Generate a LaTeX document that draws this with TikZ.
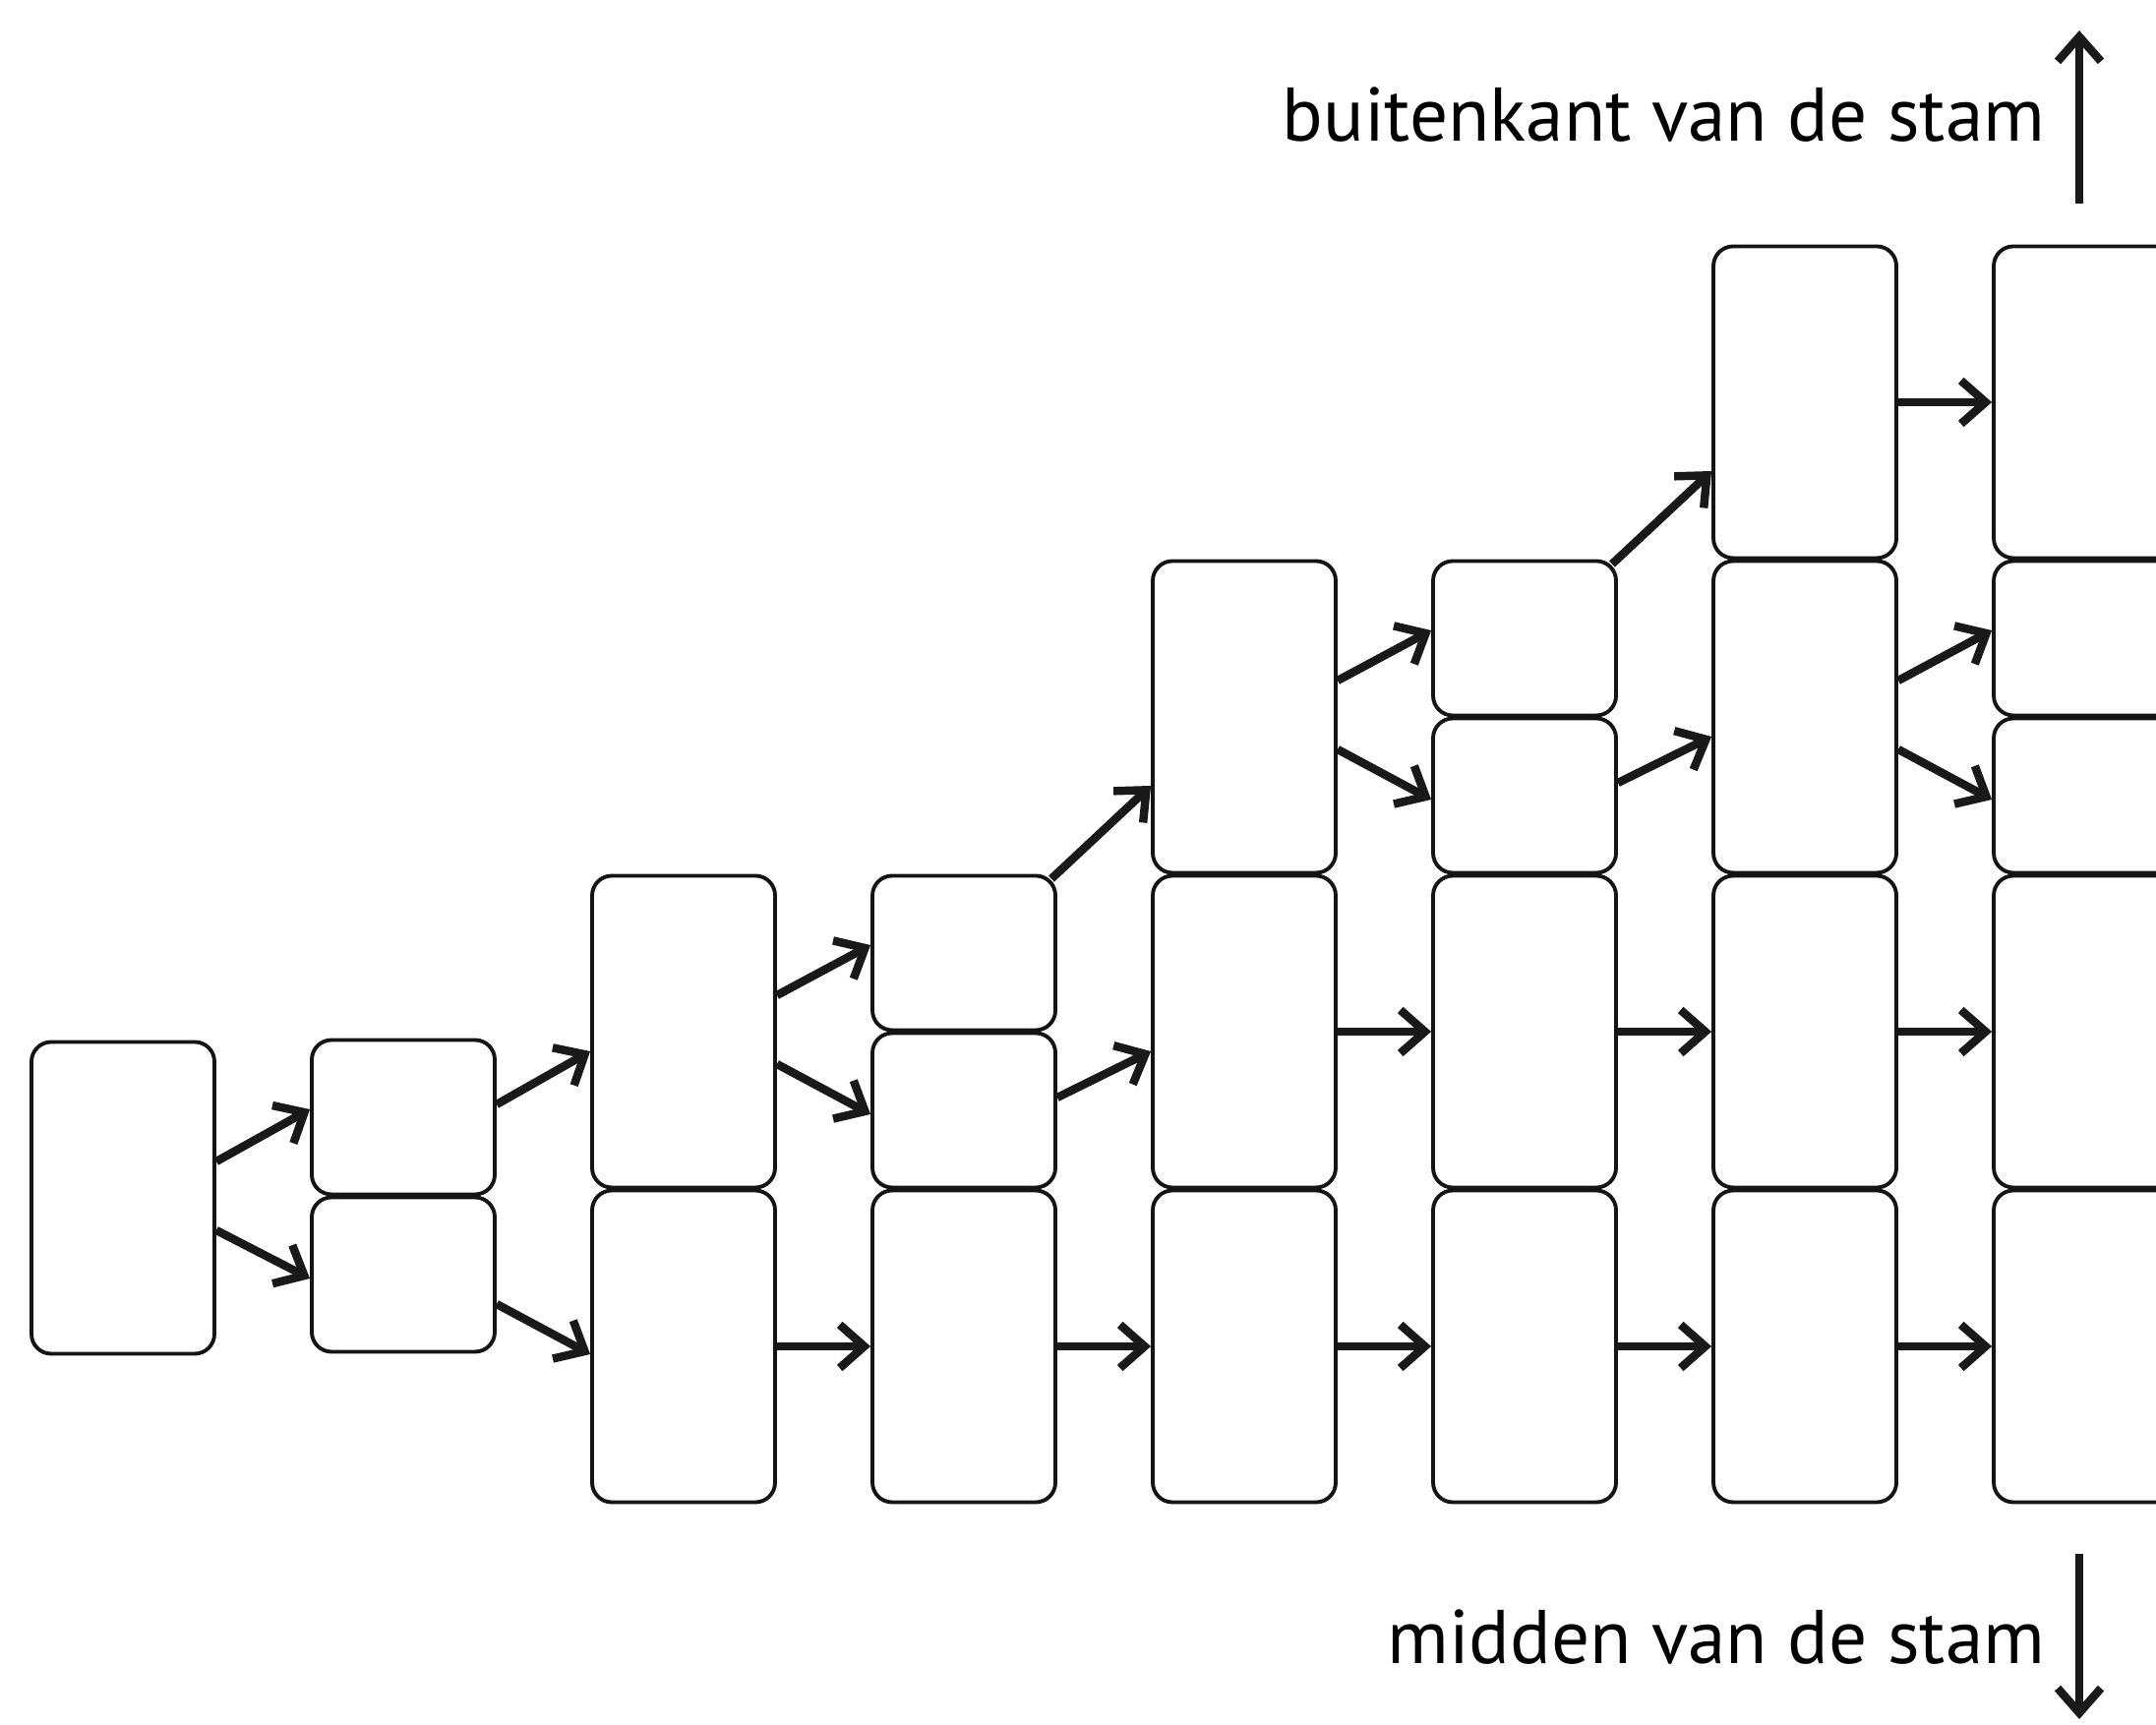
\documentclass[tikz,border=0pt]{standalone}
\usepackage{fontspec}
\setmainfont{PT Sans}
\usetikzlibrary{arrows.meta}

\begin{document}
\begin{tikzpicture}[
  cel/.style={draw=black!92,line width=1.1pt,rounded corners=2mm,minimum width=1.86cm,inner sep=0pt},
  groot/.style={cel,minimum height=3.17cm},
  klein/.style={cel,minimum height=1.57cm},
  pijl/.style={draw=black!90,line width=2.4pt,-{Straight Barb[length=2.5mm,width=4.4mm]}},
  lab/.style={font=\fontsize{22}{26}\selectfont,inner sep=0pt,anchor=base east}]
  \clip (0,0) rectangle (21.92,17.53);
  % cellen
  \node[groot] (g0) at (1.25,5.35) {};
  \node[klein] (o1) at (4.10,4.57) {};
  \node[klein] (b1) at (4.10,6.17) {};
  \foreach \i/\k in {2/0,2/1,3/0,4/0,4/1,4/2,5/0,5/1,6/0,6/1,6/2,6/3,7/0,7/1,7/3}
    \node[groot] (g\i\k) at (1.25+2.85*\i,3.84+3.2*\k) {};
  \foreach \i/\k in {3/1,5/2,7/2} {
    \node[klein] (o\i\k) at (1.25+2.85*\i,3.04+3.2*\k) {};
    \node[klein] (b\i\k) at (1.25+2.85*\i,4.64+3.2*\k) {};}
  % splitsen
  \foreach \s/\u/\l in {g0/b1/o1,g21/b31/o31,g42/b52/o52,g62/b72/o72} {
    \draw[pijl] ([yshift=3.7mm]\s.east) -- ([yshift=0.8mm]\u.west);
    \draw[pijl] ([yshift=-3.3mm]\s.east) -- ([yshift=-0.4mm]\l.west);}
  % rechtdoor
  \foreach \s/\t in {g20/g30,g30/g40,g40/g50,g50/g60,g60/g70,g41/g51,g51/g61,g61/g71,g63/g73}
    \draw[pijl] (\s) -- (\t);
  % samenvoegen
  \foreach \s/\t in {b1/g21,o31/g41,o52/g62}
    \draw[pijl] ([yshift=1.3mm]\s.east) -- ([yshift=-2mm]\t.west);
  \draw[pijl] ([yshift=-3mm]o1.east) -- ([yshift=-0.8mm]g20.west);
  \foreach \s/\t in {b31/g42,b52/g63}
    \draw[pijl] ([shift={(-0.06,-0.05)}]\s.north east) -- ([yshift=-7mm]\t.west);
  % richting
  \coordinate (op0) at (21.14,15.46); \coordinate (op1) at (21.14,17.22);
  \coordinate (neer0) at (21.14,1.73); \coordinate (neer1) at (21.14,0.05);
  \draw[pijl] (op0) -- (op1);
  \draw[pijl] (neer0) -- (neer1);
  \node[lab] (buiten) at (20.80,16.09) {buitenkant van de stam};
  \node[lab] (midden) at (20.80,0.61) {midden van de stam};
\end{tikzpicture}
\end{document}
